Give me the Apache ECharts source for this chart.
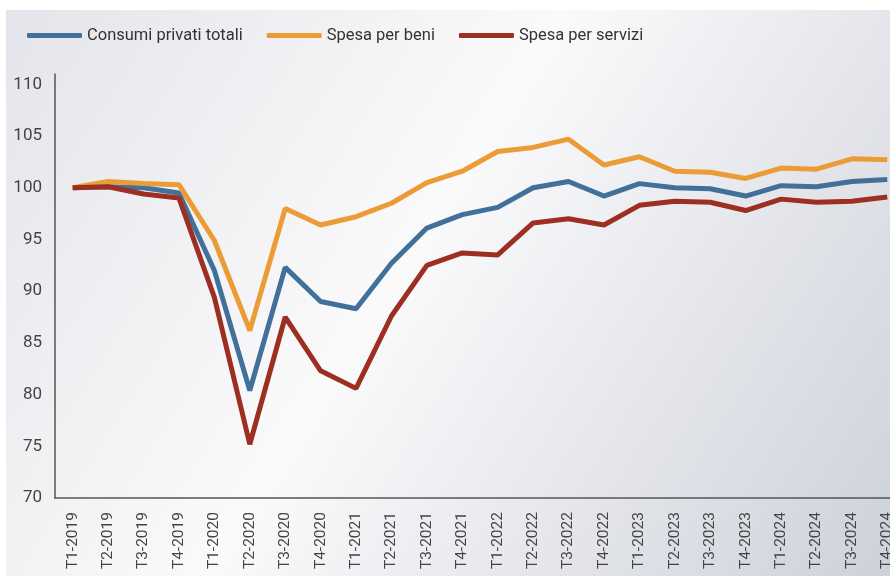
<!DOCTYPE html>
<html>
<head>
<meta charset="utf-8">
<script src="https://cdn.jsdelivr.net/npm/echarts@6/dist/echarts.min.js"></script>
<style>
  html, body { margin: 0; padding: 0; background: #ffffff; }
  #chart { width: 890px; height: 576px; }
</style>
</head>
<body>
<div id="chart"></div>
<script>
// quarters
var quarters = [
  "T1-2019", "T2-2019", "T3-2019", "T4-2019",
  "T1-2020", "T2-2020", "T3-2020", "T4-2020",
  "T1-2021", "T2-2021", "T3-2021", "T4-2021",
  "T1-2022", "T2-2022", "T3-2022", "T4-2022",
  "T1-2023", "T2-2023", "T3-2023", "T4-2023",
  "T1-2024", "T2-2024", "T3-2024", "T4-2024"
];

var consumiTotali = [100, 100.1, 100.0, 99.5, 92.0, 80.4, 92.3, 89.0, 88.3, 92.7, 96.1, 97.4,
  98.1, 100.0, 100.6, 99.2, 100.4, 100.0, 99.9, 99.2, 100.2, 100.1, 100.6, 100.8];
var spesaBeni = [100, 100.6, 100.4, 100.3, 94.9, 86.2, 98.0, 96.4, 97.2, 98.5, 100.5, 101.6,
  103.5, 103.9, 104.7, 102.2, 103.0, 101.6, 101.5, 100.9, 101.9, 101.8, 102.8, 102.7];
var spesaServizi = [100, 100.1, 99.4, 99.0, 89.4, 75.2, 87.5, 82.3, 80.6, 87.6, 92.5, 93.7,
  93.5, 96.6, 97.0, 96.4, 98.3, 98.7, 98.6, 97.8, 98.9, 98.6, 98.7, 99.1];

var yTicks = { min: 70, max: 111, step: 5 };

var font = "'Roboto', sans-serif";

var chart = echarts.init(document.getElementById("chart"));

chart.setOption({
  animation: false,
  textStyle: { fontFamily: font },
  graphic: [
    {
      type: "rect",
      z: -10,
      silent: true,
      shape: { x: 6, y: 10, width: 884, height: 566 },
      style: {
        fill: new echarts.graphic.LinearGradient(0, 0, 1, 1, [
          { offset: 0, color: "#e4e5ea" },
          { offset: 0.45, color: "#fafafb" },
          { offset: 1, color: "#cdd1da" }
        ])
      }
    }
  ],
  legend: {
    left: 22,
    top: 22,
    itemWidth: 55,
    itemHeight: 5,
    itemGap: 24,
    icon: "roundRect",
    textStyle: { fontSize: 16.5, color: "#333", fontFamily: font },
    data: ["Consumi privati totali", "Spesa per beni", "Spesa per servizi"]
  },
  grid: {
    left: 55,
    top: 74,
    right: -15,
    bottom: 78,
    outerBoundsMode: "none"
  },
  xAxis: {
    type: "category",
    data: quarters,
    boundaryGap: true,
    axisLine: { show: true, lineStyle: { color: "#555", width: 1.5 } },
    axisTick: { show: false },
    axisLabel: {
      rotate: 90,
      margin: 14,
      interval: 0,
      fontSize: 15.5,
      color: "#444",
      fontFamily: font
    },
    splitLine: { show: false }
  },
  yAxis: {
    type: "value",
    min: yTicks.min,
    max: yTicks.max,
    interval: yTicks.step,
    axisLine: { show: true, lineStyle: { color: "#555", width: 1.5 } },
    axisTick: { show: false },
    splitLine: { show: false },
    axisLabel: {
      showMaxLabel: false,
      margin: 13,
      fontSize: 17,
      color: "#444",
      fontFamily: font
    }
  },
  series: [
    {
      name: "Consumi privati totali",
      type: "line",
      data: consumiTotali,
      symbol: "none",
      itemStyle: { color: "#41709a" },
      lineStyle: { color: "#41709a", width: 5 }
    },
    {
      name: "Spesa per beni",
      type: "line",
      data: spesaBeni,
      symbol: "none",
      itemStyle: { color: "#ec9c36" },
      lineStyle: { color: "#ec9c36", width: 5 }
    },
    {
      name: "Spesa per servizi",
      type: "line",
      data: spesaServizi,
      symbol: "none",
      itemStyle: { color: "#9c2f21" },
      lineStyle: { color: "#9c2f21", width: 5 }
    }
  ]
});
</script>
</body>
</html>
